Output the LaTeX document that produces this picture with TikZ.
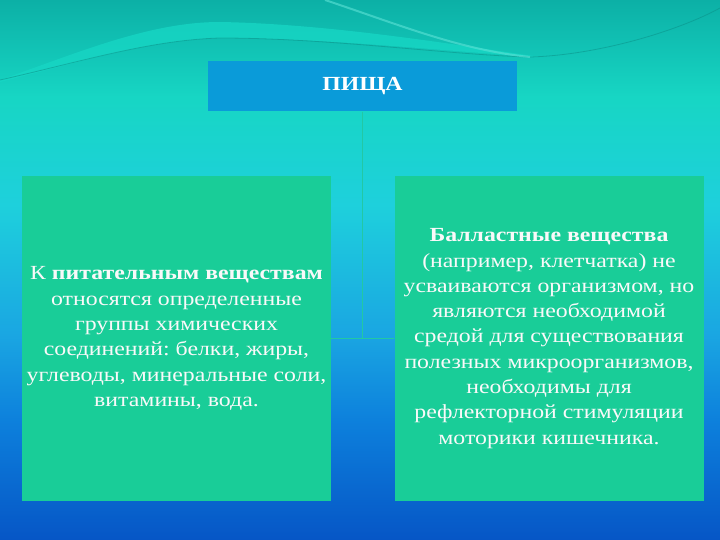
\documentclass[tikz,border=0pt]{standalone}
\usepackage{fontspec}
\setmainfont[FakeStretch=1.19]{Liberation Serif}
\usetikzlibrary{calc,positioning}
\definecolor{bgtop}{HTML}{0CB0A6}
\definecolor{bgwave}{HTML}{17D6C4}
\definecolor{bgcyan}{HTML}{1ED0DC}
\definecolor{bgmid}{HTML}{1AA6E2}
\definecolor{bglow}{HTML}{0D80DC}
\definecolor{bgbottom}{HTML}{0656C6}
\definecolor{boxgreen}{HTML}{19CD98}
\definecolor{titleblue}{HTML}{0A9BD9}
\definecolor{linkgreen}{HTML}{22C8A4}
\pgfdeclareverticalshading{slidebg}{100bp}{color(0bp)=(bgbottom); color(25bp)=(bgbottom);
  color(36bp)=(bglow); color(44bp)=(bgmid); color(56bp)=(bgcyan); color(66bp)=(bgwave);
  color(75bp)=(bgtop); color(100bp)=(bgtop)}
\tikzstyle{title}=[rectangle,fill=titleblue,text=white,minimum width=309pt,minimum height=50pt,inner sep=0pt,font=\fontsize{20}{22}\selectfont\bfseries]
\tikzstyle{block}=[rectangle,fill=boxgreen,text=white!95!gray,minimum width=309pt,minimum height=325pt,inner sep=0pt,align=center,font=\fontsize{20}{25.3}\selectfont\frenchspacing]
\tikzstyle{link}=[draw=linkgreen,line width=1.2pt]

\begin{document}
\begin{tikzpicture}[x=1pt,y=-1pt]
	% slide background
	\useasboundingbox (0,0) rectangle (720,540);
	\shade[shading=slidebg] (0,0) rectangle (720,540);
	\fill[bgwave,opacity=0.8] (0,80) .. controls (80,52) and (150,22) .. (220,22) .. controls (330,24) and (450,44) .. (540,57) .. controls (450,52) and (330,38) .. (220,38) .. controls (150,40) and (80,62) .. (0,82) -- cycle;
	\draw[bgtop!80!black,opacity=0.5,line width=0.8pt] (0,80) .. controls (80,62) and (150,40) .. (220,38) .. controls (330,38) and (450,55) .. (530,57) .. controls (600,55) and (680,30) .. (720,8);
	\draw[bgwave!70!white,opacity=0.6,line width=2pt] (325,0) .. controls (400,25) and (460,50) .. (530,57);
	
	\node[title] (food) at (362.5,86.5) {ПИЩА};
	
	\node[block] (nutrients) at (176.5,338.5) {К \textbf{питательным веществам}\\
		относятся определенные\\
		группы химических\\
		соединений: белки, жиры,\\
		углеводы, минеральные соли,\\
		витамины, вода.};
	\node[block] (ballast) at (549,338.5) {\textbf{Балластные вещества}\\
		(например, клетчатка) не\\
		усваиваются организмом, но\\
		являются необходимой\\
		средой для существования\\
		полезных микроорганизмов,\\
		необходимы для\\
		рефлекторной стимуляции\\
		моторики кишечника.};
	
	\draw[link] (food.south) -- (food.south |- nutrients.east);
	\draw[link] (nutrients.east) -- (ballast.west);
\end{tikzpicture}
\end{document}
